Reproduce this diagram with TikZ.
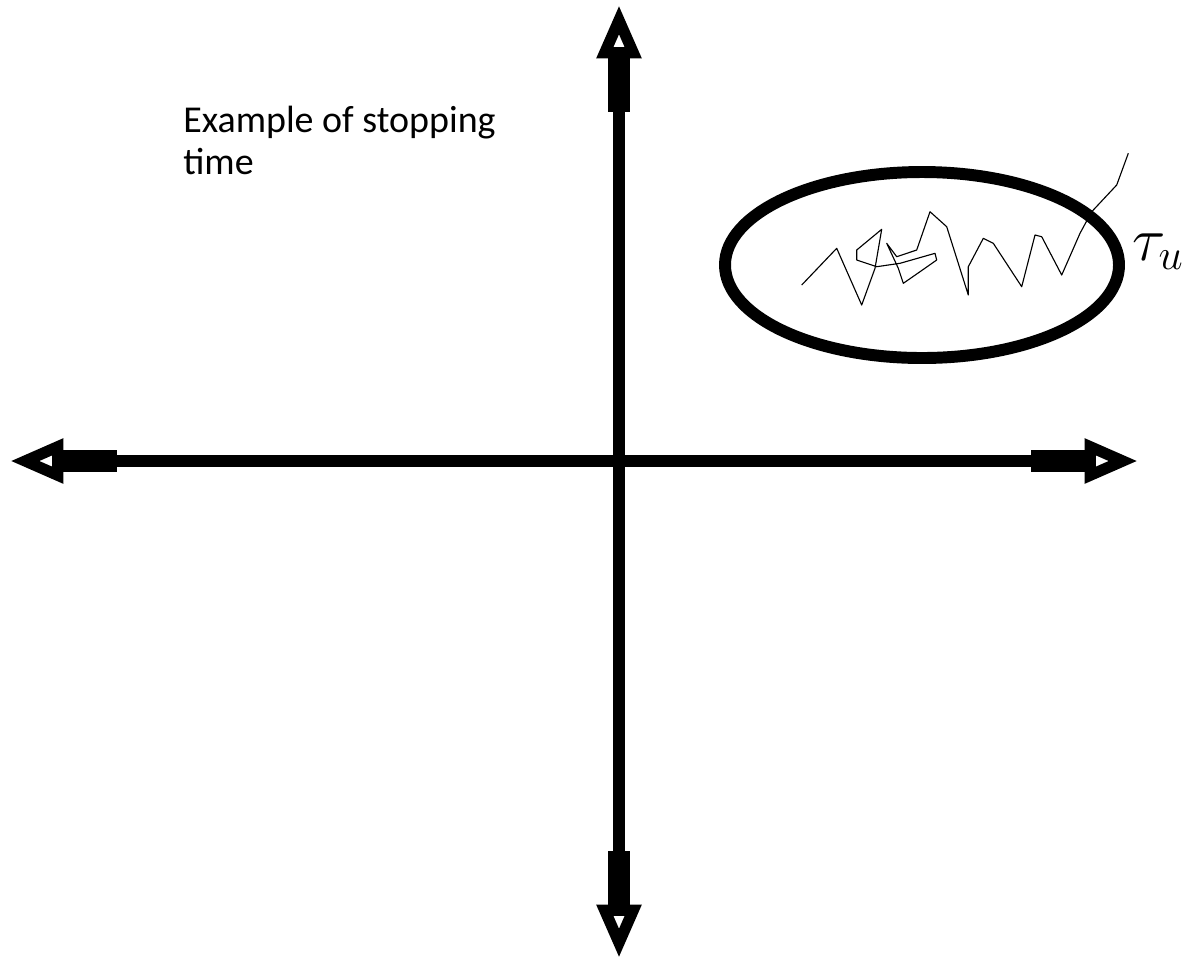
\documentclass[tikz,border=0pt]{standalone}
\usepackage{fix-cm}
\usepackage{fontspec}
\setmainfont{Carlito}
\usetikzlibrary{arrows.meta,positioning}

\begin{document}
\begin{tikzpicture}[
    x=0.025cm, y=-0.025cm,
    axis/.style={line width=8.3pt, -{Rectangle[length=38pt,width=15pt] Triangle[open,length=38pt,width=30pt,line width=8pt]}},
    boundary/.style={line width=8.5pt},
    walk/.style={line width=0.8pt, line join=round},
    label/.style={font=\fontsize{27}{30}\selectfont, align=left, anchor=north west, inner sep=0pt},
]
\useasboundingbox (0,0) rectangle (1197,963);

% Axes
\coordinate (origin) at (619,461);
\coordinate (west) at (10,461);
\coordinate (east) at (1138,461);
\coordinate (north) at (619,5);
\coordinate (south) at (619,958);

\draw[axis] (origin) -- (west);
\draw[axis] (origin) -- (east);
\draw[axis] (origin) -- (north);
\draw[axis] (origin) -- (south);

% Caption
\node[label] (caption) at (183,106) {Example of stopping\\time};

% Region and path
\draw[boundary] (922,265) ellipse [x radius=197, y radius=93];

\draw[walk] (801.7,285) -- (836.7,248.3) -- (861.7,305) -- (875,268.3)
    -- (881.7,229.3) -- (856.7,250) -- (856.7,260) -- (876.7,266.7)
    -- (900,263.3) -- (935,253.3) -- (936.7,260) -- (920,271.7)
    -- (903.3,283.3) -- (898.3,268.3) -- (886.7,243.3) -- (896.7,256.7)
    -- (916.7,250) -- (930,211.7) -- (946.7,226.7) -- (968.3,295)
    -- (968.3,266.7) -- (983.3,238.3) -- (993.3,243.3) -- (1021.7,286.7)
    -- (1035,235) -- (1041.7,236.7) -- (1061.7,275) -- (1068.3,260)
    -- (1080,233.3) -- (1091.7,211.7) -- (1116.7,185) -- (1128.3,153.3);

\node[font=\fontsize{44}{48}\selectfont, anchor=west, inner sep=0pt] (tau) at (1132,252) {$\tau_u$};

\end{tikzpicture}
\end{document}
